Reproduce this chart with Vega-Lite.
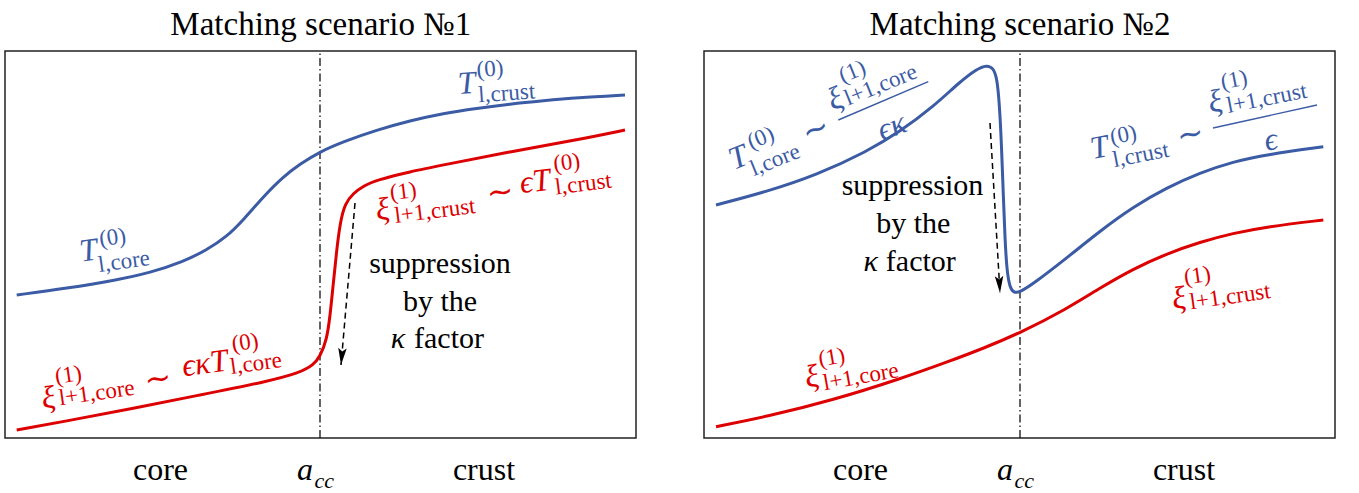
{
  "$schema": "https://vega.github.io/schema/vega-lite/v6.json",
  "padding": {"left": 4, "top": 8, "right": 0, "bottom": 0},
  "background": "white",
  "config": {"view": {"stroke": "#222", "strokeWidth": 1.5}},
  "datasets": {
    "curves": [
      {"p":"L","s":"T","x":11.7,"y":143},{"p":"L","s":"T","x":61.7,"y":149.7},{"p":"L","s":"T","x":111.7,"y":158},{"p":"L","s":"T","x":145,"y":165.3},{"p":"L","s":"T","x":178.3,"y":176.3},{"p":"L","s":"T","x":201.7,"y":188},{"p":"L","s":"T","x":221.7,"y":201.3},{"p":"L","s":"T","x":238.3,"y":218},{"p":"L","s":"T","x":258.3,"y":241.3},{"p":"L","s":"T","x":278.3,"y":261.3},{"p":"L","s":"T","x":295,"y":274},{"p":"L","s":"T","x":315,"y":286.3},{"p":"L","s":"T","x":338.3,"y":296.3},{"p":"L","s":"T","x":371.7,"y":308},{"p":"L","s":"T","x":405,"y":317.3},{"p":"L","s":"T","x":438.3,"y":324.7},{"p":"L","s":"T","x":471.7,"y":329.7},{"p":"L","s":"T","x":505,"y":334},{"p":"L","s":"T","x":538.3,"y":337.3},{"p":"L","s":"T","x":571.7,"y":340.3},{"p":"L","s":"T","x":620,"y":343},
      {"p":"L","s":"X","x":11.7,"y":8},{"p":"L","s":"X","x":61.7,"y":17},{"p":"L","s":"X","x":128.3,"y":29.7},{"p":"L","s":"X","x":195,"y":43},{"p":"L","s":"X","x":261.7,"y":56.3},{"p":"L","s":"X","x":295,"y":65.3},{"p":"L","s":"X","x":308.3,"y":73},{"p":"L","s":"X","x":315,"y":81.3},{"p":"L","s":"X","x":321.7,"y":98},{"p":"L","s":"X","x":325,"y":121.3},{"p":"L","s":"X","x":328.3,"y":154.7},{"p":"L","s":"X","x":331.7,"y":188},{"p":"L","s":"X","x":335,"y":214.7},{"p":"L","s":"X","x":340,"y":234.7},{"p":"L","s":"X","x":348.3,"y":244.7},{"p":"L","s":"X","x":358.3,"y":252},{"p":"L","s":"X","x":371.7,"y":258},{"p":"L","s":"X","x":405,"y":266.3},{"p":"L","s":"X","x":438.3,"y":273},{"p":"L","s":"X","x":505,"y":286.3},{"p":"L","s":"X","x":571.7,"y":298},{"p":"L","s":"X","x":620,"y":308},
      {"p":"R","s":"T","x":12,"y":233},{"p":"R","s":"T","x":62.7,"y":246.3},{"p":"R","s":"T","x":112.7,"y":263},{"p":"R","s":"T","x":162.7,"y":286.3},{"p":"R","s":"T","x":196,"y":306.3},{"p":"R","s":"T","x":229.3,"y":331.3},{"p":"R","s":"T","x":256,"y":356.3},{"p":"R","s":"T","x":272.7,"y":369},{"p":"R","s":"T","x":282.7,"y":373},{"p":"R","s":"T","x":289.3,"y":370},{"p":"R","s":"T","x":293,"y":360},{"p":"R","s":"T","x":295.5,"y":333},{"p":"R","s":"T","x":297.5,"y":293},{"p":"R","s":"T","x":299.3,"y":243},{"p":"R","s":"T","x":301,"y":198},{"p":"R","s":"T","x":303,"y":166},{"p":"R","s":"T","x":306,"y":150},{"p":"R","s":"T","x":310,"y":145},{"p":"R","s":"T","x":316,"y":146},{"p":"R","s":"T","x":329,"y":154},{"p":"R","s":"T","x":362.7,"y":180},{"p":"R","s":"T","x":396,"y":207},{"p":"R","s":"T","x":429,"y":231},{"p":"R","s":"T","x":462.7,"y":250.3},{"p":"R","s":"T","x":496,"y":265.3},{"p":"R","s":"T","x":529,"y":276.3},{"p":"R","s":"T","x":562.7,"y":283.5},{"p":"R","s":"T","x":619.3,"y":291.3},
      {"p":"R","s":"X","x":12,"y":11.3},{"p":"R","s":"X","x":62.7,"y":21.3},{"p":"R","s":"X","x":129.3,"y":38},{"p":"R","s":"X","x":196,"y":59},{"p":"R","s":"X","x":246,"y":77},{"p":"R","s":"X","x":279,"y":89.5},{"p":"R","s":"X","x":316,"y":105},{"p":"R","s":"X","x":362.7,"y":129},{"p":"R","s":"X","x":396,"y":150},{"p":"R","s":"X","x":429,"y":169},{"p":"R","s":"X","x":462.7,"y":184.3},{"p":"R","s":"X","x":496,"y":196},{"p":"R","s":"X","x":529,"y":204.7},{"p":"R","s":"X","x":562.7,"y":211.3},{"p":"R","s":"X","x":619.3,"y":218}
    ],
    "vlines": [
      {"p":"L","x":315,"y":0,"y2":387},
      {"p":"R","x":316,"y":0,"y2":387}
    ],
    "arrows": [
      {"p":"L","x":350,"y":235,"x2":336,"y2":73},
      {"p":"R","x":286,"y":315,"x2":296,"y2":145}
    ],
    "heads": [
      {"p":"L","x":336,"y":73},
      {"p":"R","x":296,"y":145}
    ],
    "bars": [
      {"k":"F","x":134.3,"y":318,"x2":224.3,"y2":356.3},
      {"k":"G","x":509,"y":310,"x2":613,"y2":333}
    ],
    "texts": [
      {"k":"L_tt","x":315.8,"y":403,"t":"Matching scenario №1"},
      {"k":"L_p31","x":155.5,"y":-42,"t":"core"},
      {"k":"L_p31","x":479,"y":-42,"t":"crust"},
      {"k":"L_a","x":300,"y":-42,"t":"a"},
      {"k":"L_cc","x":319.2,"y":-50,"t":"cc"},
      {"k":"L_sup","x":435,"y":165,"t":"suppression"},
      {"k":"L_sup","x":435,"y":127,"t":"by the"},
      {"k":"L_sup","x":444,"y":90,"t":"factor"},
      {"k":"L_kap","x":393,"y":90,"t":"κ"},
      {"k":"A_m","x":83.3,"y":187.5,"t":"T"},
      {"k":"A_s","x":107.5,"y":200.5,"t":"(0)"},
      {"k":"A_s","x":119,"y":176.5,"t":"l,core"},
      {"k":"B_m","x":461.7,"y":354.7,"t":"T"},
      {"k":"B_s","x":485,"y":369,"t":"(0)"},
      {"k":"B_s","x":501.7,"y":344.7,"t":"l,crust"},
      {"k":"C_m","x":43.3,"y":40,"t":"ξ"},
      {"k":"C_s","x":63.3,"y":63,"t":"(1)"},
      {"k":"C_s","x":91.7,"y":45,"t":"l+1,core"},
      {"k":"C_o","x":153.3,"y":59,"t":"∼"},
      {"k":"C_m","x":200,"y":74.5,"t":"ϵκT"},
      {"k":"C_s","x":240,"y":95.5,"t":"(0)"},
      {"k":"C_s","x":251,"y":74.5,"t":"l,core"},
      {"k":"D_m","x":377.5,"y":228.5,"t":"ξ"},
      {"k":"D_s","x":398.3,"y":246.5,"t":"(1)"},
      {"k":"D_s","x":430,"y":227,"t":"l+1,crust"},
      {"k":"D_o","x":495,"y":245.5,"t":"∼"},
      {"k":"D_m","x":530,"y":256.5,"t":"ϵT"},
      {"k":"D_s","x":561.7,"y":275.5,"t":"(0)"},
      {"k":"D_s","x":578.3,"y":254,"t":"l,crust"},
      {"k":"R_tt","x":316,"y":403,"t":"Matching scenario №2"},
      {"k":"R_p31","x":156.5,"y":-42,"t":"core"},
      {"k":"R_p31","x":480,"y":-42,"t":"crust"},
      {"k":"R_a","x":301,"y":-42,"t":"a"},
      {"k":"R_cc","x":320.2,"y":-50,"t":"cc"},
      {"k":"R_sup","x":208.5,"y":243,"t":"suppression"},
      {"k":"R_sup","x":209.3,"y":205,"t":"by the"},
      {"k":"R_sup","x":216.8,"y":167,"t":"factor"},
      {"k":"R_kap","x":166.8,"y":167,"t":"κ"},
      {"k":"F_m","x":34.3,"y":280.7,"t":"T"},
      {"k":"F_s","x":56.8,"y":300,"t":"(0)"},
      {"k":"F_s","x":71,"y":278,"t":"l,core"},
      {"k":"F_o","x":111.8,"y":308,"t":"∼"},
      {"k":"F_m","x":131,"y":339,"t":"ξ"},
      {"k":"F_s","x":148.3,"y":366.3,"t":"(1)"},
      {"k":"F_s","x":176.7,"y":353,"t":"l+1,core"},
      {"k":"F_m","x":187.7,"y":311.3,"t":"ϵκ"},
      {"k":"G_m","x":395.2,"y":290.5,"t":"T"},
      {"k":"G_s","x":419.3,"y":303,"t":"(0)"},
      {"k":"G_s","x":436.7,"y":283,"t":"l,crust"},
      {"k":"G_o","x":486,"y":303,"t":"∼"},
      {"k":"G_m","x":511,"y":336.3,"t":"ξ"},
      {"k":"G_s","x":530,"y":358,"t":"(1)"},
      {"k":"G_s","x":562.7,"y":339.7,"t":"l+1,crust"},
      {"k":"G_m","x":566.7,"y":298,"t":"ϵ"},
      {"k":"H_m","x":107.7,"y":61.3,"t":"ξ"},
      {"k":"H_s","x":127.7,"y":80.7,"t":"(1)"},
      {"k":"H_s","x":156.7,"y":61.3,"t":"l+1,core"},
      {"k":"I_m","x":475,"y":139.7,"t":"ξ"},
      {"k":"I_s","x":493.3,"y":162.3,"t":"(1)"},
      {"k":"I_s","x":526,"y":141.3,"t":"l+1,crust"}
    ]
  },
  "hconcat": [
    {
      "width": 631,
      "height": 387,
      "encoding": {
        "x": {"field": "x", "type": "quantitative", "scale": {"domain": [0, 631], "nice": false, "zero": false}, "axis": null},
        "y": {"field": "y", "type": "quantitative", "scale": {"domain": [0, 387], "nice": false, "zero": false}, "axis": null}
      },
      "layer": [
        {"data": {"name": "vlines"}, "transform": [{"filter": "datum.p=='L'"}], "mark": {"type": "rule", "color": "#111", "strokeWidth": 1.3, "strokeDash": [8, 3, 1.5, 3]}, "encoding": {"y2": {"field": "y2"}}},
        {"data": {"name": "curves"}, "transform": [{"filter": "datum.p=='L' && datum.s=='T'"}], "mark": {"type": "line", "interpolate": "basis", "color": "#3b5ba5", "strokeWidth": 3}},
        {"data": {"name": "curves"}, "transform": [{"filter": "datum.p=='L' && datum.s=='X'"}], "mark": {"type": "line", "interpolate": "basis", "color": "#dd0000", "strokeWidth": 3}},
        {"data": {"name": "arrows"}, "transform": [{"filter": "datum.p=='L'"}], "mark": {"type": "rule", "color": "black", "strokeWidth": 1.5, "strokeDash": [6, 4]}, "encoding": {"x2": {"field": "x2"}, "y2": {"field": "y2"}}},
        {"data": {"name": "heads"}, "transform": [{"filter": "datum.p=='L'"}], "mark": {"type": "point", "shape": "M0,0L-0.5,-2L0,-1.6L0.5,-2Z", "filled": true, "opacity": 1, "color": "black", "size": 289, "angle": 5}},
        {"data": {"name": "texts"}, "transform": [{"filter": "datum.k=='L_tt'"}], "mark": {"type": "text", "font": "Liberation Serif", "fontSize": 33, "color": "black", "align": "center", "baseline": "alphabetic"}, "encoding": {"text": {"field": "t"}}},
        {"data": {"name": "texts"}, "transform": [{"filter": "datum.k=='L_p31'"}], "mark": {"type": "text", "font": "Liberation Serif", "fontSize": 32, "color": "black", "align": "center", "baseline": "alphabetic"}, "encoding": {"text": {"field": "t"}}},
        {"data": {"name": "texts"}, "transform": [{"filter": "datum.k=='L_a'"}], "mark": {"type": "text", "font": "Liberation Serif", "fontSize": 32, "fontStyle": "italic", "color": "black", "align": "center", "baseline": "alphabetic"}, "encoding": {"text": {"field": "t"}}},
        {"data": {"name": "texts"}, "transform": [{"filter": "datum.k=='L_cc'"}], "mark": {"type": "text", "font": "Liberation Serif", "fontSize": 22, "fontStyle": "italic", "color": "black", "align": "center", "baseline": "alphabetic"}, "encoding": {"text": {"field": "t"}}},
        {"data": {"name": "texts"}, "transform": [{"filter": "datum.k=='L_sup'"}], "mark": {"type": "text", "font": "Liberation Serif", "fontSize": 30, "color": "black", "align": "center", "baseline": "alphabetic"}, "encoding": {"text": {"field": "t"}}},
        {"data": {"name": "texts"}, "transform": [{"filter": "datum.k=='L_kap'"}], "mark": {"type": "text", "font": "Liberation Serif", "fontSize": 30, "fontStyle": "italic", "color": "black", "align": "center", "baseline": "alphabetic"}, "encoding": {"text": {"field": "t"}}},
        {"data": {"name": "texts"}, "transform": [{"filter": "datum.k=='A_m'"}], "mark": {"type": "text", "font": "Liberation Serif", "fontSize": 32, "fontStyle": "italic", "angle": 352, "color": "#3b5ba5", "align": "center", "baseline": "middle"}, "encoding": {"text": {"field": "t"}}},
        {"data": {"name": "texts"}, "transform": [{"filter": "datum.k=='A_s'"}], "mark": {"type": "text", "font": "Liberation Serif", "fontSize": 23, "angle": 352, "color": "#3b5ba5", "align": "center", "baseline": "middle"}, "encoding": {"text": {"field": "t"}}},
        {"data": {"name": "texts"}, "transform": [{"filter": "datum.k=='B_m'"}], "mark": {"type": "text", "font": "Liberation Serif", "fontSize": 32, "fontStyle": "italic", "angle": 356, "color": "#3b5ba5", "align": "center", "baseline": "middle"}, "encoding": {"text": {"field": "t"}}},
        {"data": {"name": "texts"}, "transform": [{"filter": "datum.k=='B_s'"}], "mark": {"type": "text", "font": "Liberation Serif", "fontSize": 23, "angle": 356, "color": "#3b5ba5", "align": "center", "baseline": "middle"}, "encoding": {"text": {"field": "t"}}},
        {"data": {"name": "texts"}, "transform": [{"filter": "datum.k=='C_m'"}], "mark": {"type": "text", "font": "Liberation Serif", "fontSize": 32, "fontStyle": "italic", "angle": 352, "color": "#dd0000", "align": "center", "baseline": "middle"}, "encoding": {"text": {"field": "t"}}},
        {"data": {"name": "texts"}, "transform": [{"filter": "datum.k=='C_s'"}], "mark": {"type": "text", "font": "Liberation Serif", "fontSize": 23, "angle": 352, "color": "#dd0000", "align": "center", "baseline": "middle"}, "encoding": {"text": {"field": "t"}}},
        {"data": {"name": "texts"}, "transform": [{"filter": "datum.k=='C_o'"}], "mark": {"type": "text", "font": "Liberation Serif", "fontSize": 32, "angle": 352, "color": "#dd0000", "align": "center", "baseline": "middle"}, "encoding": {"text": {"field": "t"}}},
        {"data": {"name": "texts"}, "transform": [{"filter": "datum.k=='D_m'"}], "mark": {"type": "text", "font": "Liberation Serif", "fontSize": 32, "fontStyle": "italic", "angle": 353, "color": "#dd0000", "align": "center", "baseline": "middle"}, "encoding": {"text": {"field": "t"}}},
        {"data": {"name": "texts"}, "transform": [{"filter": "datum.k=='D_s'"}], "mark": {"type": "text", "font": "Liberation Serif", "fontSize": 23, "angle": 353, "color": "#dd0000", "align": "center", "baseline": "middle"}, "encoding": {"text": {"field": "t"}}},
        {"data": {"name": "texts"}, "transform": [{"filter": "datum.k=='D_o'"}], "mark": {"type": "text", "font": "Liberation Serif", "fontSize": 32, "angle": 353, "color": "#dd0000", "align": "center", "baseline": "middle"}, "encoding": {"text": {"field": "t"}}}
      ]
    },
    {
      "width": 631,
      "height": 387,
      "encoding": {
        "x": {"field": "x", "type": "quantitative", "scale": {"domain": [0, 631], "nice": false, "zero": false}, "axis": null},
        "y": {"field": "y", "type": "quantitative", "scale": {"domain": [0, 387], "nice": false, "zero": false}, "axis": null}
      },
      "layer": [
        {"data": {"name": "vlines"}, "transform": [{"filter": "datum.p=='R'"}], "mark": {"type": "rule", "color": "#111", "strokeWidth": 1.3, "strokeDash": [8, 3, 1.5, 3]}, "encoding": {"y2": {"field": "y2"}}},
        {"data": {"name": "curves"}, "transform": [{"filter": "datum.p=='R' && datum.s=='T'"}], "mark": {"type": "line", "interpolate": "basis", "color": "#3b5ba5", "strokeWidth": 3}},
        {"data": {"name": "curves"}, "transform": [{"filter": "datum.p=='R' && datum.s=='X'"}], "mark": {"type": "line", "interpolate": "basis", "color": "#dd0000", "strokeWidth": 3}},
        {"data": {"name": "arrows"}, "transform": [{"filter": "datum.p=='R'"}], "mark": {"type": "rule", "color": "black", "strokeWidth": 1.5, "strokeDash": [6, 4]}, "encoding": {"x2": {"field": "x2"}, "y2": {"field": "y2"}}},
        {"data": {"name": "heads"}, "transform": [{"filter": "datum.p=='R'"}], "mark": {"type": "point", "shape": "M0,0L-0.5,-2L0,-1.6L0.5,-2Z", "filled": true, "opacity": 1, "color": "black", "size": 289, "angle": 356.7}},
        {"data": {"name": "bars"}, "mark": {"type": "rule", "color": "#3b5ba5", "strokeWidth": 1.4}, "encoding": {"x2": {"field": "x2"}, "y2": {"field": "y2"}}},
        {"data": {"name": "texts"}, "transform": [{"filter": "datum.k=='R_tt'"}], "mark": {"type": "text", "font": "Liberation Serif", "fontSize": 33, "color": "black", "align": "center", "baseline": "alphabetic"}, "encoding": {"text": {"field": "t"}}},
        {"data": {"name": "texts"}, "transform": [{"filter": "datum.k=='R_p31'"}], "mark": {"type": "text", "font": "Liberation Serif", "fontSize": 32, "color": "black", "align": "center", "baseline": "alphabetic"}, "encoding": {"text": {"field": "t"}}},
        {"data": {"name": "texts"}, "transform": [{"filter": "datum.k=='R_a'"}], "mark": {"type": "text", "font": "Liberation Serif", "fontSize": 32, "fontStyle": "italic", "color": "black", "align": "center", "baseline": "alphabetic"}, "encoding": {"text": {"field": "t"}}},
        {"data": {"name": "texts"}, "transform": [{"filter": "datum.k=='R_cc'"}], "mark": {"type": "text", "font": "Liberation Serif", "fontSize": 22, "fontStyle": "italic", "color": "black", "align": "center", "baseline": "alphabetic"}, "encoding": {"text": {"field": "t"}}},
        {"data": {"name": "texts"}, "transform": [{"filter": "datum.k=='R_sup'"}], "mark": {"type": "text", "font": "Liberation Serif", "fontSize": 30, "color": "black", "align": "center", "baseline": "alphabetic"}, "encoding": {"text": {"field": "t"}}},
        {"data": {"name": "texts"}, "transform": [{"filter": "datum.k=='R_kap'"}], "mark": {"type": "text", "font": "Liberation Serif", "fontSize": 30, "fontStyle": "italic", "color": "black", "align": "center", "baseline": "alphabetic"}, "encoding": {"text": {"field": "t"}}},
        {"data": {"name": "texts"}, "transform": [{"filter": "datum.k=='F_m'"}], "mark": {"type": "text", "font": "Liberation Serif", "fontSize": 32, "fontStyle": "italic", "angle": 338, "color": "#3b5ba5", "align": "center", "baseline": "middle"}, "encoding": {"text": {"field": "t"}}},
        {"data": {"name": "texts"}, "transform": [{"filter": "datum.k=='F_s'"}], "mark": {"type": "text", "font": "Liberation Serif", "fontSize": 23, "angle": 338, "color": "#3b5ba5", "align": "center", "baseline": "middle"}, "encoding": {"text": {"field": "t"}}},
        {"data": {"name": "texts"}, "transform": [{"filter": "datum.k=='F_o'"}], "mark": {"type": "text", "font": "Liberation Serif", "fontSize": 32, "angle": 338, "color": "#3b5ba5", "align": "center", "baseline": "middle"}, "encoding": {"text": {"field": "t"}}},
        {"data": {"name": "texts"}, "transform": [{"filter": "datum.k=='G_m'"}], "mark": {"type": "text", "font": "Liberation Serif", "fontSize": 32, "fontStyle": "italic", "angle": 349, "color": "#3b5ba5", "align": "center", "baseline": "middle"}, "encoding": {"text": {"field": "t"}}},
        {"data": {"name": "texts"}, "transform": [{"filter": "datum.k=='G_s'"}], "mark": {"type": "text", "font": "Liberation Serif", "fontSize": 23, "angle": 349, "color": "#3b5ba5", "align": "center", "baseline": "middle"}, "encoding": {"text": {"field": "t"}}},
        {"data": {"name": "texts"}, "transform": [{"filter": "datum.k=='G_o'"}], "mark": {"type": "text", "font": "Liberation Serif", "fontSize": 32, "angle": 349, "color": "#3b5ba5", "align": "center", "baseline": "middle"}, "encoding": {"text": {"field": "t"}}},
        {"data": {"name": "texts"}, "transform": [{"filter": "datum.k=='H_m'"}], "mark": {"type": "text", "font": "Liberation Serif", "fontSize": 32, "fontStyle": "italic", "angle": 350, "color": "#dd0000", "align": "center", "baseline": "middle"}, "encoding": {"text": {"field": "t"}}},
        {"data": {"name": "texts"}, "transform": [{"filter": "datum.k=='H_s'"}], "mark": {"type": "text", "font": "Liberation Serif", "fontSize": 23, "angle": 350, "color": "#dd0000", "align": "center", "baseline": "middle"}, "encoding": {"text": {"field": "t"}}},
        {"data": {"name": "texts"}, "transform": [{"filter": "datum.k=='I_m'"}], "mark": {"type": "text", "font": "Liberation Serif", "fontSize": 32, "fontStyle": "italic", "angle": 352, "color": "#dd0000", "align": "center", "baseline": "middle"}, "encoding": {"text": {"field": "t"}}},
        {"data": {"name": "texts"}, "transform": [{"filter": "datum.k=='I_s'"}], "mark": {"type": "text", "font": "Liberation Serif", "fontSize": 23, "angle": 352, "color": "#dd0000", "align": "center", "baseline": "middle"}, "encoding": {"text": {"field": "t"}}}
      ]
    }
  ],
  "spacing": 68,
  "bounds": "flush"
}
